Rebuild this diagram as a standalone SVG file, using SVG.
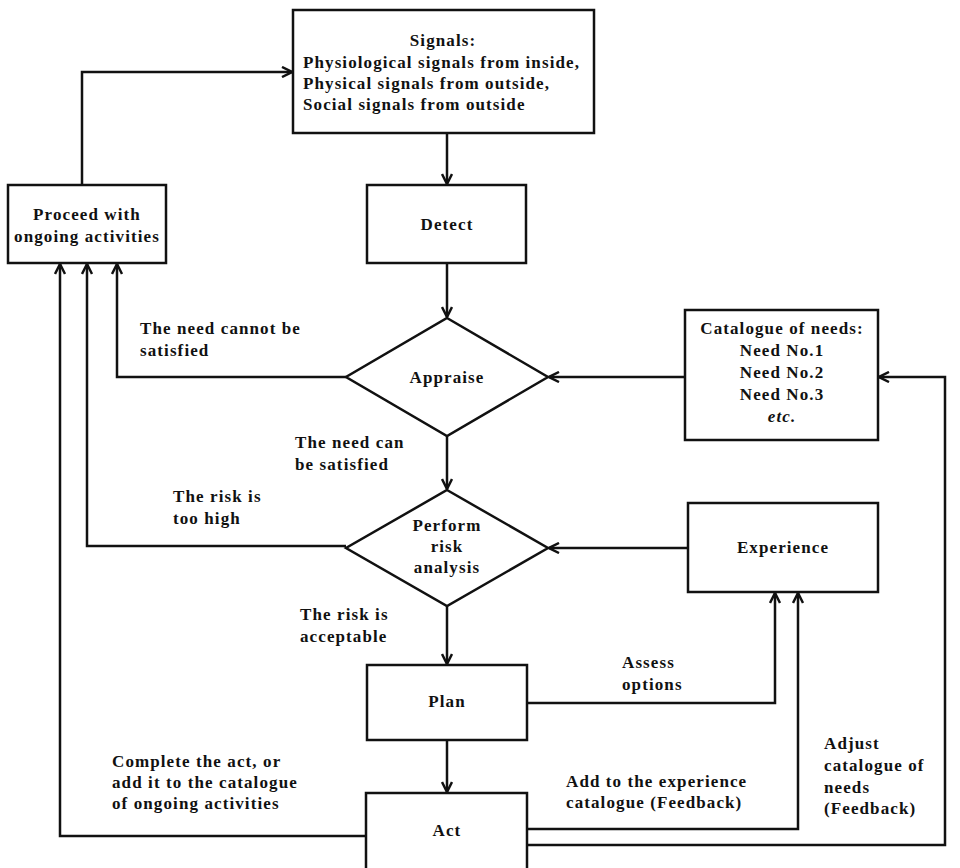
<svg xmlns="http://www.w3.org/2000/svg" width="960" height="868" viewBox="0 0 960 868">
<style>
text{font-family:"Liberation Serif","Times New Roman","DejaVu Serif",serif;font-weight:bold;font-size:17px;letter-spacing:1.1px;fill:#111}
.c{text-anchor:middle}
.b{fill:#fff;stroke:#111;stroke-width:2.5}
.l{fill:none;stroke:#111;stroke-width:2.5;marker-end:url(#a)}
</style>
<defs><marker id="a" viewBox="0 0 12 12" refX="11" refY="6" markerWidth="12" markerHeight="12" markerUnits="userSpaceOnUse" orient="auto"><path d="M1,1 L11,6 L1,11" fill="none" stroke="#111" stroke-width="2.5"/></marker></defs>
<rect width="960" height="868" fill="#fff"/>
<g id="connectors">
<path class="l" d="M447,133 V184"/>
<path class="l" d="M447,263 V317"/>
<path class="l" d="M447,436 V489"/>
<path class="l" d="M447,606 V664"/>
<path class="l" d="M447,740 V792"/>
<path class="l" d="M82,185 V72 H292"/>
<path class="l" d="M346,377 H117 V264"/>
<path class="l" d="M346,546 H87 V264"/>
<path class="l" d="M366,836 H60 V264"/>
<path class="l" d="M685,377 H549"/>
<path class="l" d="M688,548 H549"/>
<path class="l" d="M527,703 H775 V593"/>
<path class="l" d="M527,829 H798 V593"/>
<path class="l" d="M527,845 H945 V377 H879"/>
</g>
<g id="signals"><rect class="b" x="293" y="10" width="301" height="123"/>
<text class="c" x="443" y="46">Signals:</text>
<text x="303" y="68">Physiological signals from inside,</text>
<text x="303" y="89">Physical signals from outside,</text>
<text x="303" y="110">Social signals from outside</text></g>
<g id="detect"><rect class="b" x="367" y="185" width="159" height="78"/><text class="c" x="447" y="230">Detect</text></g>
<g id="appraise"><path class="b" d="M447,318 L548,377 L447,436 L346,377 Z"/><text class="c" x="447" y="383">Appraise</text></g>
<g id="risk"><path class="b" d="M447,490 L548,548 L447,606 L346,548 Z"/>
<text class="c" x="447" y="531">Perform</text><text class="c" x="447" y="552">risk</text><text class="c" x="447" y="573">analysis</text></g>
<g id="plan"><rect class="b" x="367" y="665" width="160" height="75"/><text class="c" x="447" y="707">Plan</text></g>
<g id="act"><rect class="b" x="366" y="793" width="161" height="90"/><text class="c" x="447" y="836">Act</text></g>
<g id="proceed"><rect class="b" x="8" y="185" width="158" height="78"/>
<text class="c" x="87" y="220">Proceed with</text><text class="c" x="87" y="242">ongoing activities</text></g>
<g id="catalogue"><rect class="b" x="685" y="310" width="193" height="130"/>
<text class="c" x="782" y="334">Catalogue of needs:</text>
<text class="c" x="782" y="356">Need No.1</text>
<text class="c" x="782" y="378">Need No.2</text>
<text class="c" x="782" y="400">Need No.3</text>
<text class="c" x="782" y="422" font-style="italic">etc.</text></g>
<g id="experience"><rect class="b" x="688" y="503" width="190" height="89"/><text class="c" x="783" y="553">Experience</text></g>
<g id="labels">
<text x="140" y="334">The need cannot be</text><text x="140" y="356">satisfied</text>
<text x="295" y="448">The need can</text><text x="295" y="470">be satisfied</text>
<text x="173" y="502">The risk is</text><text x="173" y="524">too high</text>
<text x="300" y="620">The risk is</text><text x="300" y="642">acceptable</text>
<text x="622" y="668">Assess</text><text x="622" y="690">options</text>
<text x="112" y="767">Complete the act, or</text><text x="112" y="788">add it to the catalogue</text><text x="112" y="809">of ongoing activities</text>
<text x="566" y="787">Add to the experience</text><text x="566" y="808">catalogue (Feedback)</text>
<text x="824" y="749">Adjust</text><text x="824" y="771">catalogue of</text><text x="824" y="793">needs</text><text x="824" y="814">(Feedback)</text>
</g>
</svg>
